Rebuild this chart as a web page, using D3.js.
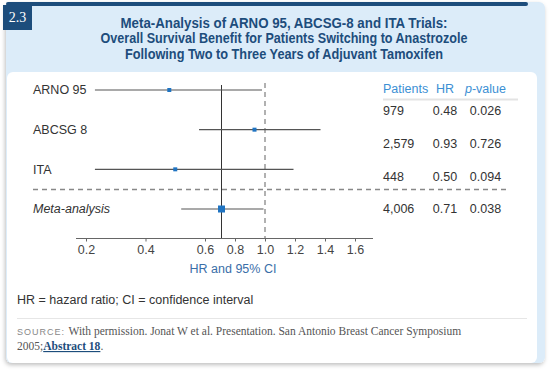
<!DOCTYPE html>
<html>
<head>
<meta charset="utf-8">
<script src="https://cdn.jsdelivr.net/npm/d3@7"></script>
<style>
  body { margin: 0; background: #fff; }
  svg { display: block; font-family: "Liberation Sans", Arial, sans-serif; }
</style>
</head>
<body>
<script>
// chart data
var studies = ['ARNO 95', 'ABCSG 8', 'ITA', 'Meta-analysis'];
var hr = [0.48, 0.93, 0.50, 0.71];
var ciLow = [0.23, 0.58, 0.23, 0.52];
var ciHigh = [0.98, 1.37, 1.19, 0.99];
var patients = ['979', '2,579', '448', '4,006'];
var hrLabels = ['0.48', '0.93', '0.50', '0.71'];
var pValues = ['0.026', '0.726', '0.094', '0.038'];
var xTicks = [0.2, 0.4, 0.6, 0.8, 1.0, 1.2, 1.4, 1.6];
var titleLines = [
  'Meta-Analysis of ARNO 95, ABCSG-8 and ITA Trials:',
  'Overall Survival Benefit for Patients Switching to Anastrozole',
  'Following Two to Three Years of Adjuvant Tamoxifen'
];
var titleWidths = [327, 367, 318];

var width = 560;
var height = 377;
var darkBlue = '#1d4d7c';
var markBlue = '#1f74c2';

var svg = d3.select('body')
  .append('svg')
    .attr('width', width)
    .attr('height', height);

// soft shadow for the card
var defs = svg.append('defs');
var shadow = defs.append('filter')
    .attr('id', 'shadow')
    .attr('x', -0.05).attr('y', -0.05)
    .attr('width', 1.1).attr('height', 1.15);
shadow.append('feDropShadow')
    .attr('dx', -1).attr('dy', 2)
    .attr('stdDeviation', 2)
    .attr('flood-color', '#000')
    .attr('flood-opacity', 0.25);

// card frame
svg.append('rect')
    .attr('x', 6).attr('y', 2)
    .attr('width', 539).attr('height', 361)
    .attr('rx', 6)
    .attr('fill', '#dcecf9')
    .attr('filter', 'url(#shadow)');

svg.append('rect')
    .attr('x', 6).attr('y', 2)
    .attr('width', 522).attr('height', 4)
    .attr('rx', 2)
    .attr('fill', darkBlue);

svg.append('rect')
    .attr('x', 7).attr('y', 72)
    .attr('width', 530).attr('height', 291)
    .attr('rx', 6)
    .attr('fill', '#fff');

// figure number box
svg.append('rect')
    .attr('x', 3).attr('y', 5)
    .attr('width', 29).attr('height', 25)
    .attr('fill', darkBlue);
svg.append('text')
    .attr('x', 17.5).attr('y', 22)
    .attr('text-anchor', 'middle')
    .attr('fill', '#fff')
    .style('font-family', '"Liberation Serif", "DejaVu Serif", serif')
    .style('font-size', '14px')
    .text('2.3');

// title
svg.selectAll('.title')
  .data(titleLines)
  .enter()
  .append('text')
    .attr('class', 'title')
    .attr('x', 284)
    .attr('y', function(d, i) { return 28 + i * 15.3; })
    .attr('text-anchor', 'middle')
    .attr('textLength', function(d, i) { return titleWidths[i]; })
    .attr('lengthAdjust', 'spacingAndGlyphs')
    .attr('fill', darkBlue)
    .style('font-size', '14.5px')
    .style('font-weight', 'bold')
    .text(function(d) { return d; });

// scales
var x = d3.scaleLinear()
    .domain([0.2, 0.6, 1.6])
    .range([86, 205, 355]);

var y = d3.scalePoint()
    .domain(studies)
    .range([90, 209]);

var yTable = d3.scalePoint()
    .domain(studies)
    .range([111, 209]);

var axisY = 238.5;
var g = svg.append('g');

// reference lines
g.append('line')
    .attr('x1', x(1.0)).attr('x2', x(1.0))
    .attr('y1', 83).attr('y2', axisY)
    .attr('stroke', '#888')
    .attr('stroke-width', 1.3)
    .attr('stroke-dasharray', '5,4');

g.append('line')
    .attr('x1', x(hr[3])).attr('x2', x(hr[3]))
    .attr('y1', 85).attr('y2', axisY)
    .attr('stroke', '#333')
    .attr('stroke-width', 1);

// separator between trials and meta-analysis
g.append('line')
    .attr('x1', 33).attr('x2', 507)
    .attr('y1', 189.5).attr('y2', 189.5)
    .attr('stroke', '#888')
    .attr('stroke-width', 1.3)
    .attr('stroke-dasharray', '5,4');

// confidence intervals
g.selectAll('.ci')
  .data(studies)
  .enter()
  .append('line')
    .attr('class', 'ci')
    .attr('x1', function(d, i) { return x(ciLow[i]); })
    .attr('x2', function(d, i) { return x(ciHigh[i]); })
    .attr('y1', function(d) { return y(d); })
    .attr('y2', function(d) { return y(d); })
    .attr('stroke', '#555')
    .attr('stroke-width', 1.1);

// point estimates
g.selectAll('.hr')
  .data(studies)
  .enter()
  .append('rect')
    .attr('class', 'hr')
    .attr('x', function(d, i) { return x(hr[i]) - (i == 3 ? 3.5 : 2); })
    .attr('y', function(d, i) { return y(d) - (i == 3 ? 3.5 : 2); })
    .attr('width', function(d, i) { return i == 3 ? 7 : 4; })
    .attr('height', function(d, i) { return i == 3 ? 7 : 4; })
    .attr('fill', markBlue);

// study labels
g.selectAll('.label')
  .data(studies)
  .enter()
  .append('text')
    .attr('class', 'label')
    .attr('x', 33)
    .attr('y', function(d) { return y(d); })
    .attr('dy', '0.35em')
    .attr('fill', '#333')
    .style('font-size', '12.5px')
    .style('font-style', function(d, i) { return i == 3 ? 'italic' : 'normal'; })
    .text(function(d) { return d; });

// x axis
g.append('line')
    .attr('x1', 76).attr('x2', 373)
    .attr('y1', axisY).attr('y2', axisY)
    .attr('stroke', '#666')
    .attr('stroke-width', 1.2);

var axis = g.append('g')
    .attr('transform', 'translate(0,' + axisY + ')')
    .call(d3.axisBottom(x)
      .tickValues(xTicks)
      .tickFormat(d3.format('.1f'))
      .tickSize(3)
      .tickSizeOuter(0)
      .tickPadding(4));
axis.select('.domain').remove();
axis.selectAll('.tick line').attr('stroke', '#666');
axis.selectAll('.tick text')
    .attr('fill', '#444')
    .style('font-size', '12.5px')
    .style('font-family', '"Liberation Sans", Arial, sans-serif');

g.append('text')
    .attr('x', 233).attr('y', 273)
    .attr('text-anchor', 'middle')
    .attr('fill', '#3a6ea8')
    .style('font-size', '12.5px')
    .text('HR and 95% CI');

// table
var table = svg.append('g');
var headY = 93;

table.append('text')
    .attr('x', 383).attr('y', headY)
    .attr('fill', '#3b8fd4')
    .style('font-size', '12.5px')
    .text('Patients');
table.append('text')
    .attr('x', 445).attr('y', headY)
    .attr('text-anchor', 'middle')
    .attr('fill', '#3b8fd4')
    .style('font-size', '12.5px')
    .text('HR');
var pHead = table.append('text')
    .attr('x', 485.5).attr('y', headY)
    .attr('text-anchor', 'middle')
    .attr('fill', '#3b8fd4')
    .style('font-size', '12.5px');
pHead.append('tspan').style('font-style', 'italic').text('p');
pHead.append('tspan').text('-value');

table.append('line')
    .attr('x1', 383).attr('x2', 518)
    .attr('y1', 99.5).attr('y2', 99.5)
    .attr('stroke', '#e3e3e3')
    .attr('stroke-width', 2);

var rows = table.selectAll('.row')
  .data(studies)
  .enter()
  .append('g')
    .attr('class', 'row')
    .attr('transform', function(d) { return 'translate(0,' + yTable(d) + ')'; });

rows.append('text')
    .attr('x', 383).attr('dy', '0.35em')
    .attr('fill', '#333')
    .style('font-size', '12.5px')
    .text(function(d, i) { return patients[i]; });
rows.append('text')
    .attr('x', 445).attr('dy', '0.35em')
    .attr('text-anchor', 'middle')
    .attr('fill', '#333')
    .style('font-size', '12.5px')
    .text(function(d, i) { return hrLabels[i]; });
rows.append('text')
    .attr('x', 485.5).attr('dy', '0.35em')
    .attr('text-anchor', 'middle')
    .attr('fill', '#333')
    .style('font-size', '12.5px')
    .text(function(d, i) { return pValues[i]; });

// footnote and source
svg.append('text')
    .attr('x', 17).attr('y', 304)
    .attr('fill', '#333')
    .style('font-size', '12.5px')
    .text('HR = hazard ratio; CI = confidence interval');

svg.append('line')
    .attr('x1', 17).attr('x2', 527)
    .attr('y1', 318.5).attr('y2', 318.5)
    .attr('stroke', '#e6e6e6')
    .attr('stroke-width', 1);

var src = svg.append('text')
    .attr('x', 17).attr('y', 335)
    .attr('fill', '#555')
    .style('font-family', '"Liberation Serif", "DejaVu Serif", serif')
    .style('font-size', '11.5px');
src.append('tspan')
    .style('font-family', '"Liberation Sans", Arial, sans-serif')
    .style('font-size', '9px')
    .style('letter-spacing', '1px')
    .attr('fill', '#888')
    .text('SOURCE: ');
src.append('tspan')
    .text('With permission. Jonat W et al. Presentation. San Antonio Breast Cancer Symposium');

var src2 = svg.append('text')
    .attr('x', 17).attr('y', 350)
    .attr('fill', '#555')
    .style('font-family', '"Liberation Serif", "DejaVu Serif", serif')
    .style('font-size', '11.5px');
src2.append('tspan').text('2005;');
src2.append('tspan')
    .attr('fill', darkBlue)
    .style('font-weight', 'bold')
    .style('text-decoration', 'underline')
    .text('Abstract 18');
src2.append('tspan').text('.');
</script>
</body>
</html>
